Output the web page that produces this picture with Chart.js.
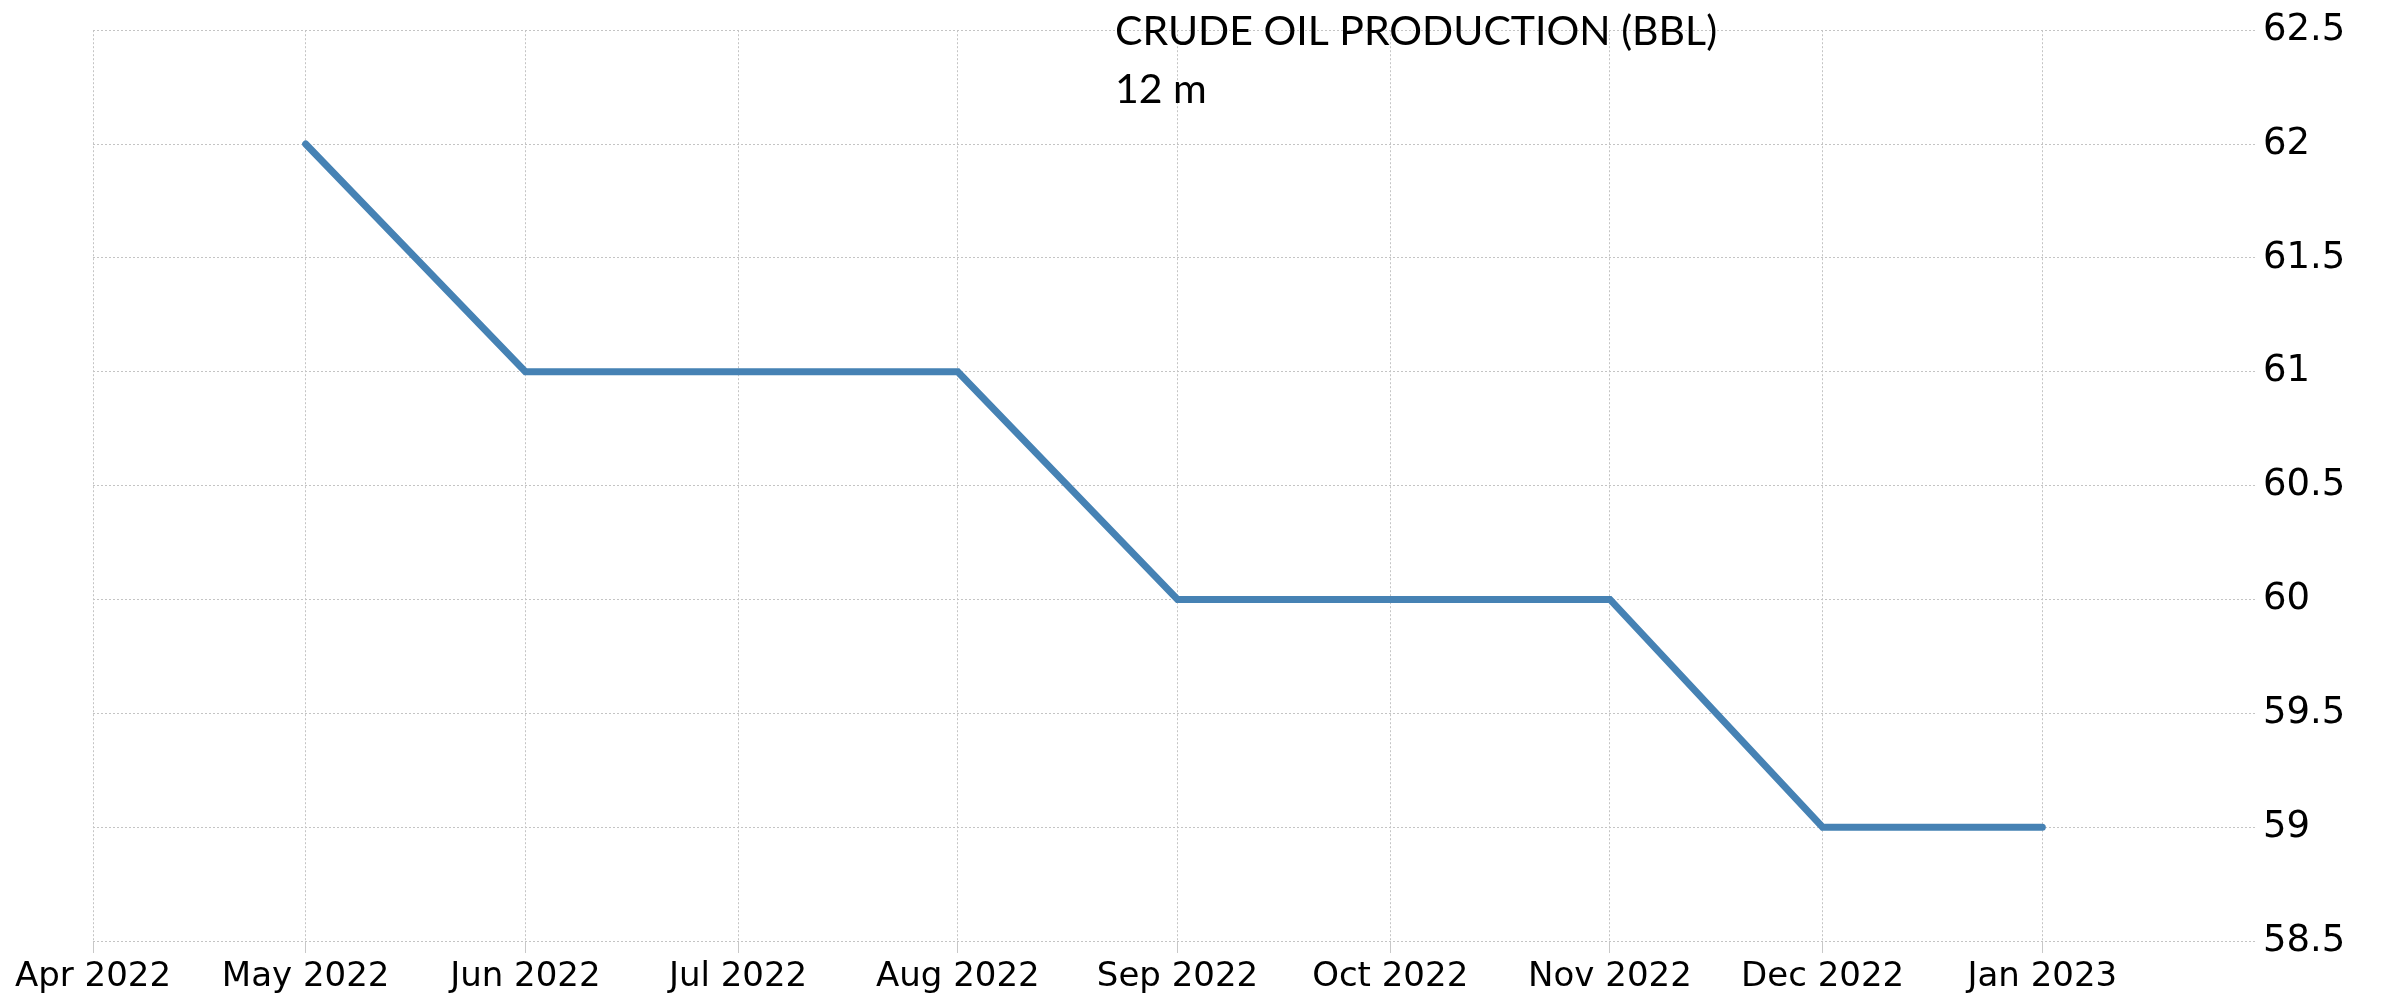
<!DOCTYPE html>
<html>
<head>
<meta charset="utf-8">
<script src="https://cdn.jsdelivr.net/npm/chart.js@4.4.1/dist/chart.umd.min.js"></script>
<style>
  html, body { margin: 0; padding: 0; background: #ffffff; }
  #wrap { width: 2384px; height: 1003px; }
</style>
</head>
<body>
<div id="wrap"><canvas id="c" width="2384" height="1003"></canvas></div>
<script>
// ---- Data ----
const titleLines = ['CRUDE OIL PRODUCTION (BBL)', '12 m'];
const tickDates = ['2022-04-01','2022-05-01','2022-06-01','2022-07-01','2022-08-01','2022-09-01','2022-10-01','2022-11-01','2022-12-01','2023-01-01'];
const tickLabels = ['Apr 2022','May 2022','Jun 2022','Jul 2022','Aug 2022','Sep 2022','Oct 2022','Nov 2022','Dec 2022','Jan 2023'];
const dataDates = ['2022-05-01','2022-06-01','2022-07-01','2022-08-01','2022-09-01','2022-10-01','2022-11-01','2022-12-01','2023-01-01'];
const production = [62, 61, 61, 61, 60, 60, 60, 59, 59];
const xRange = ['2022-04-01', '2023-01-31'];
const yRange = [58.5, 62.5];
const yStep = 0.5;

// ---- Helpers ----
function toDay(s) {
  const [y, m, d] = s.split('-').map(Number);
  return Date.UTC(y, m - 1, d) / 86400000;
}
const labelByDay = {};
tickDates.forEach((d, i) => { labelByDay[toDay(d)] = tickLabels[i]; });
const points = dataDates.map((d, i) => ({ x: toDay(d), y: production[i] }));

const GRID = '#c4c4c4';

const titlePlugin = {
  id: 'titleText',
  afterDraw(chart) {
    const ctx = chart.ctx;
    ctx.save();
    ctx.fillStyle = '#000000';
    ctx.font = '41px Lato';
    ctx.textAlign = 'left';
    ctx.textBaseline = 'alphabetic';
    ctx.fillText(titleLines[0], 1115, 45);
    ctx.fillText(titleLines[1], 1115, 103);
    ctx.restore();
  }
};

new Chart(document.getElementById('c'), {
  type: 'line',
  data: {
    datasets: [{
      data: points,
      borderColor: '#4682b4',
      backgroundColor: '#4682b4',
      borderWidth: 7,
      pointRadius: 0,
      tension: 0,
      fill: false,
      borderCapStyle: 'round',
      borderJoinStyle: 'miter'
    }]
  },
  options: {
    responsive: false,
    animation: false,
    layout: { padding: { left: 93, top: 27, right: 0, bottom: 0 } },
    plugins: { legend: { display: false }, tooltip: { enabled: false }, title: { display: false } },
    scales: {
      x: {
        type: 'linear',
        min: toDay(xRange[0]),
        max: toDay(xRange[1]),
        afterBuildTicks(scale) { scale.ticks = tickDates.map(d => ({ value: toDay(d) })); },
        afterFit(scale) { scale.height = 62; },
        ticks: {
          autoSkip: false,
          maxRotation: 0,
          minRotation: 0,
          padding: 4,
          color: '#000000',
          font: { family: 'DejaVu Sans', size: 34 },
          callback: (v) => labelByDay[v] || ''
        },
        grid: { color: GRID, lineWidth: 1, drawTicks: true, tickLength: 12, tickColor: '#c8c8c8', tickBorderDash: [] },
        border: { display: false, dash: [2, 2] }
      },
      y: {
        position: 'right',
        min: yRange[0],
        max: yRange[1],
        afterFit(scale) { scale.width = 129; },
        ticks: {
          stepSize: yStep,
          padding: 8,
          color: '#000000',
          font: { family: 'DejaVu Sans', size: 37 },
          callback: (v) => String(Number(v.toFixed(1)))
        },
        grid: { color: GRID, lineWidth: 1, drawTicks: false },
        border: { display: false, dash: [2, 2] }
      }
    }
  },
  plugins: [titlePlugin]
});
</script>
</body>
</html>
